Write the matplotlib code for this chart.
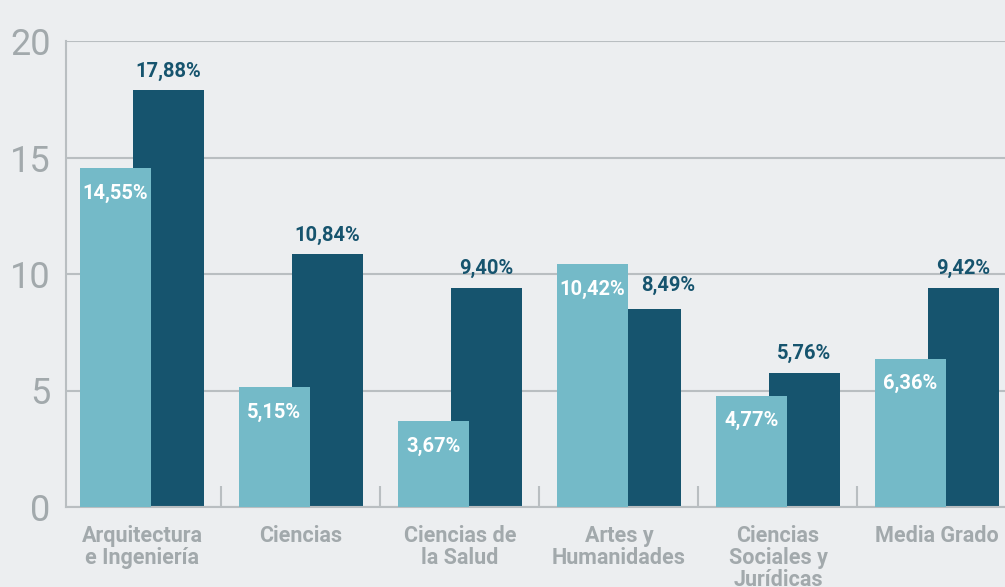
import matplotlib.pyplot as plt
import numpy as np

# Data
categories = ["Arquitectura\ne Ingeniería", "Ciencias", "Ciencias de\nla Salud",
              "Artes y\nHumanidades", "Ciencias\nSociales y\nJurídicas", "Media Grado"]
serie_clara = [14.55, 5.15, 3.67, 10.42, 4.77, 6.36]
serie_oscura = [17.88, 10.84, 9.40, 8.49, 5.76, 9.42]
y_ticks = [0, 5, 10, 15, 20]

light = "#74bac8"
dark = "#16546e"
bg = "#eceef0"
grid = "#b9bec1"
tick_col = "#a2a9ac"

plt.rcParams['font.family'] = ['Roboto', 'DejaVu Sans']

fig = plt.figure(figsize=(10.05, 5.87), dpi=100, facecolor=bg)
ax = fig.add_axes([66 / 1005, 80 / 587, 1 - 66 / 1005, (507 - 41) / 587])
ax.set_facecolor(bg)

x = np.arange(len(categories)) * 1.0
w = 0.4465
off = 0.1667

ax.bar(x + off, serie_oscura, w, color=dark, zorder=2)
ax.bar(x - off, serie_clara, w, color=light, zorder=3)

def fmt(v):
    return f"{v:.2f}".replace(".", ",") + "%"

for xi, v in zip(x, serie_clara):
    ax.annotate(fmt(v), (xi - off, v), xytext=(0, -18),
                textcoords="offset points", ha="center", va="center",
                color="white", fontsize=14.5, fontweight="bold", zorder=4)
for xi, v, vc in zip(x, serie_oscura, serie_clara):
    # label pushed right when it sits beside the taller light bar
    dx, dy = (16, 17) if vc > v else (0, 14)
    ax.annotate(fmt(v), (xi + off, v), xytext=(dx, dy),
                textcoords="offset points", ha="center", va="center",
                color=dark, fontsize=14.5, fontweight="bold", zorder=4)

ax.set_ylim(0, 20)
ax.set_xlim(-0.478, 5.428)
ax.set_yticks(y_ticks)
ax.set_yticklabels([str(t) for t in y_ticks], fontsize=26, color=tick_col)
ax.tick_params(axis="y", length=0, pad=11)
ax.yaxis.grid(True, color=grid, linewidth=1.5, zorder=0)

ax.set_xticks(x)
ax.set_xticklabels(categories, fontsize=15.5, fontweight="bold", color=tick_col,
                   linespacing=1.0, va="top")
ax.tick_params(axis="x", length=0, pad=13)
ax.set_xticks(x[:-1] + 0.5, minor=True)
ax.tick_params(axis="x", which="minor", direction="in", length=15, color=grid, width=1.5)

for s in ["top", "right"]:
    ax.spines[s].set_visible(False)
for s in ["left", "bottom"]:
    ax.spines[s].set_color(grid)
    ax.spines[s].set_linewidth(1.5)

plt.savefig("out.png", dpi=100, facecolor=bg)
